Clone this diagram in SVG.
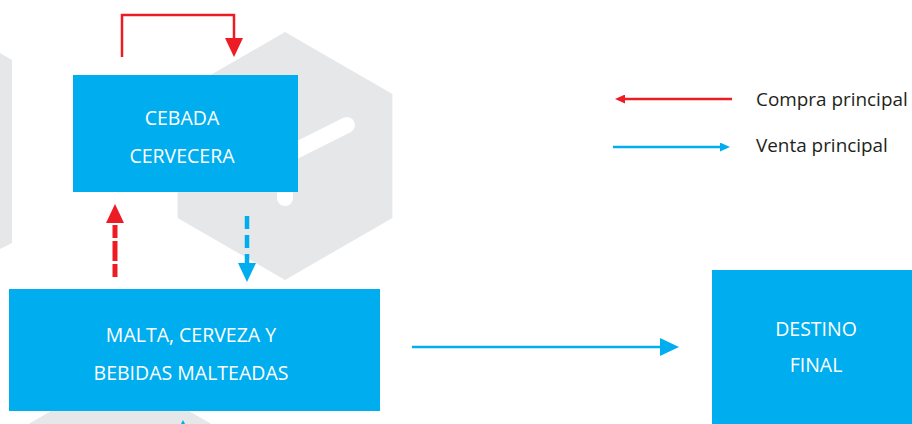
<svg xmlns="http://www.w3.org/2000/svg" width="912" height="424" viewBox="0 0 912 424">
  <defs>
    <style>
      .bg { fill: #E6E7E8; }
      .box { fill: #00AEEF; }
      .boxtext { font-family: "Open Sans", "Liberation Sans", sans-serif; font-size: 19.5px; fill: #FFFFFF; text-anchor: middle; }
      .legtext { font-family: "Open Sans", "Liberation Sans", sans-serif; font-size: 18.9px; fill: #231F20; }
      .red { stroke: #ED1C24; fill: none; }
      .blue { stroke: #00AEEF; fill: none; }
    </style>
    <marker id="headRed" markerUnits="userSpaceOnUse" markerWidth="19" markerHeight="18" refX="0" refY="9" orient="auto" viewBox="0 0 19 18">
      <path d="M0,0 L19,9 L0,18 Z" fill="#ED1C24"/>
    </marker>
    <marker id="headBlue" markerUnits="userSpaceOnUse" markerWidth="19" markerHeight="18" refX="0" refY="9" orient="auto" viewBox="0 0 19 18">
      <path d="M0,0 L19,9 L0,18 Z" fill="#00AEEF"/>
    </marker>
    <marker id="smallRed" markerUnits="userSpaceOnUse" markerWidth="10" markerHeight="9" refX="0" refY="4.5" orient="auto" viewBox="0 0 10 9">
      <path d="M0,0 L10,4.5 L0,9 Z" fill="#ED1C24"/>
    </marker>
    <marker id="smallBlue" markerUnits="userSpaceOnUse" markerWidth="10" markerHeight="9" refX="0" refY="4.5" orient="auto" viewBox="0 0 10 9">
      <path d="M0,0 L10,4.5 L0,9 Z" fill="#00AEEF"/>
    </marker>
  </defs>

  <rect x="0" y="0" width="912" height="424" fill="#FFFFFF"/>

  <g id="background">
    <polygon class="bg" points="0,53 12,60 12,243 0,249"/>
    <polygon class="bg" points="285,32 392.4,94 392.4,218 285,280 177.6,218 177.6,94"/>
    <path d="M285,156 L347,125 M285,156 L285,198" stroke="#FFFFFF" stroke-width="16" stroke-linecap="round" fill="none"/>
    <polygon class="bg" points="120,371 227,433 13,433"/>
    <polygon points="183,420 181,424 185,424" fill="#00AEEF"/>
  </g>

  <g id="connectors">
    <path class="red" d="M122,57 V15 H234 V38" stroke-width="2.5" marker-end="url(#headRed)"/>
    <path class="red" d="M115,277 V223" stroke-width="5" stroke-dasharray="13 3 20 3" marker-end="url(#headRed)"/>
    <path class="blue" d="M247,216 V263" stroke-width="4.5" stroke-dasharray="13 6" marker-end="url(#headBlue)"/>
    <path class="blue" d="M412,347 H660" stroke-width="2.5" marker-end="url(#headBlue)"/>
  </g>

  <g id="node-cebada">
    <rect class="box" x="73" y="75" width="225" height="117"/>
    <text class="boxtext" x="182" y="125">CEBADA</text>
    <text class="boxtext" x="182" y="163">CERVECERA</text>
  </g>

  <g id="node-malta">
    <rect class="box" x="9" y="289" width="371" height="122"/>
    <text class="boxtext" x="191" y="342">MALTA, CERVEZA Y</text>
    <text class="boxtext" x="191" y="380">BEBIDAS MALTEADAS</text>
  </g>

  <g id="node-destino">
    <rect class="box" x="712" y="270" width="200" height="154"/>
    <text class="boxtext" x="816" y="336">DESTINO</text>
    <text class="boxtext" x="816" y="372">FINAL</text>
  </g>

  <g id="legend">
    <path class="red" d="M732,99 H625" stroke-width="2.5" marker-end="url(#smallRed)"/>
    <text class="legtext" x="756" y="106">Compra principal</text>
    <path class="blue" d="M613,147 H720" stroke-width="2.5" marker-end="url(#smallBlue)"/>
    <text class="legtext" x="756" y="152">Venta principal</text>
  </g>
</svg>
